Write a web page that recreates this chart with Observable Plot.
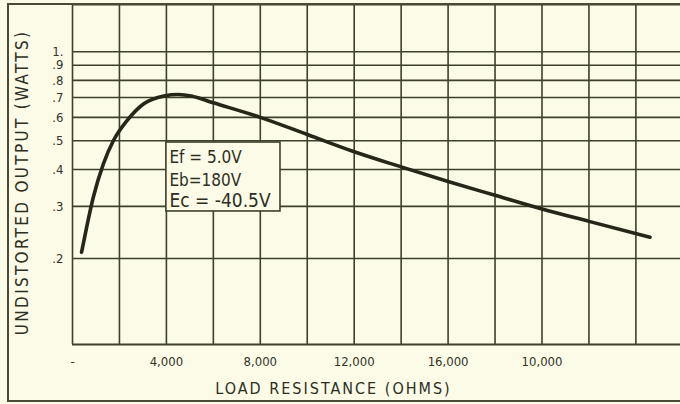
<!DOCTYPE html>
<html><head><meta charset="utf-8">
<script src="https://cdn.jsdelivr.net/npm/d3@7"></script>
<script src="https://cdn.jsdelivr.net/npm/@observablehq/plot@0.6"></script>
<style>
html,body{margin:0;padding:0;background:#fbfbe8;}
#wrap{position:relative;width:680px;height:404px;overflow:hidden;background:#fbfbe8;}
#paper{position:absolute;left:7px;top:3px;width:680px;height:395px;border-left:2px solid #4a4a34;border-top:2px solid #4a4a34;border-bottom:2px solid #4a4a34;pointer-events:none;}
</style></head><body><div id="wrap"><div id="paper"></div></div>
<script>
// Curve: load resistance (ohms) vs undistorted output (watts)
const resistance = [387, 602, 886, 1316, 1746, 2323, 3037, 3897, 4500, 5100, 6000, 8000, 10000, 12000, 14000, 16000, 18000, 20000, 22000, 24600];
const output     = [0.210, 0.255, 0.322, 0.418, 0.501, 0.585, 0.667, 0.709, 0.717, 0.707, 0.672, 0.600, 0.525, 0.459, 0.408, 0.364, 0.327, 0.294, 0.267, 0.236];

// Axes
const xDomain = [0, 25900];
const yDomain = [0.1024, 1.444];
const xGridValues = [0, 2000, 4000, 6000, 8000, 10000, 12000, 14000, 16000, 18000, 20000, 22000, 24000];
const xTickValues = [0, 4000, 8000, 12000, 16000, 20000];
const xTickLabels = ["-", "4,000", "8,000", "12,000", "16,000", "10,000"];
const yTickValues = [1, 0.9, 0.8, 0.7, 0.6, 0.5, 0.4, 0.3, 0.2];
const yTickLabels = ["1.", ".9", ".8", ".7", ".6", ".5", ".4", ".3", ".2"];
const xTitle = "LOAD RESISTANCE (OHMS)";
const yTitle = "UNDISTORTED OUTPUT (WATTS)";

// Annotation box (data units)
const noteBox = {x1: 4000, x2: 8860, y1: 0.2884, y2: 0.4932};
const noteLines = ["Ef = 5.0V", "Eb=180V", "Ec = -40.5V"];

const ink = "#3f4029";
const bg = "#fbfbe8";
const txt = "#2e2e22";
const data = resistance.map((r, i) => ({r, p: output[i]}));
const xLab = new Map(xTickValues.map((v, i) => [v, xTickLabels[i]]));
const yLab = new Map(yTickValues.map((v, i) => [v, yTickLabels[i]]));
const noteText = (i, dy, size) => Plot.text([noteLines[i]], {x: noteBox.x1, y: noteBox.y2, textAnchor: "start", lineAnchor: "middle", dx: 3, dy, fontSize: size, fill: txt});

const chart = Plot.plot({
  width: 680, height: 404,
  marginLeft: 72, marginRight: 0, marginTop: 4, marginBottom: 60,
  style: {background: "transparent", fontFamily: "'DejaVu Sans Condensed', 'Liberation Sans Narrow', 'DejaVu Sans', sans-serif", color: "#333326"},
  x: {domain: xDomain, axis: null},
  y: {type: "log", domain: yDomain, axis: null},
  marks: [
    Plot.ruleX(xGridValues, {stroke: ink, strokeWidth: 1.6}),
    Plot.ruleY(yTickValues, {stroke: ink, strokeWidth: 1.6}),
    Plot.ruleY(yDomain, {stroke: ink, strokeWidth: 2}),
    Plot.rect([noteBox], {x1: "x1", x2: "x2", y1: "y1", y2: "y2", fill: bg, stroke: ink, strokeWidth: 1.6}),
    Plot.line(data, {x: "r", y: "p", curve: "monotone-x", stroke: "#262619", strokeWidth: 3.6}),
    noteText(0, 15, 17),
    noteText(1, 38, 17),
    noteText(2, 58, 19),
    Plot.axisX({ticks: xTickValues, tickFormat: d => xLab.get(d), tickSize: 0, tickPadding: 12, fontSize: 13, label: null}),
    Plot.axisY({ticks: yTickValues, tickFormat: d => yLab.get(d), tickSize: 0, tickPadding: 9, fontSize: 13, label: null}),
    Plot.text([xTitle], {frameAnchor: "bottom", dx: -43, dy: 44, lineAnchor: "middle", fontSize: 16, fill: txt}),
    Plot.text([yTitle], {frameAnchor: "left", rotate: -90, textAnchor: "middle", dx: -50, dy: 8, fontSize: 17, fill: txt})
  ]
});
chart.style.position = "absolute";
chart.style.left = "0px";
chart.style.top = "0px";
d3.select(chart).selectAll("text").filter(function() { return this.textContent === xTitle; }).attr("letter-spacing", "2px");
d3.select(chart).selectAll("text").filter(function() { return this.textContent === yTitle; }).attr("letter-spacing", "2.3px");
document.getElementById("wrap").prepend(chart);
</script>
</body></html>
